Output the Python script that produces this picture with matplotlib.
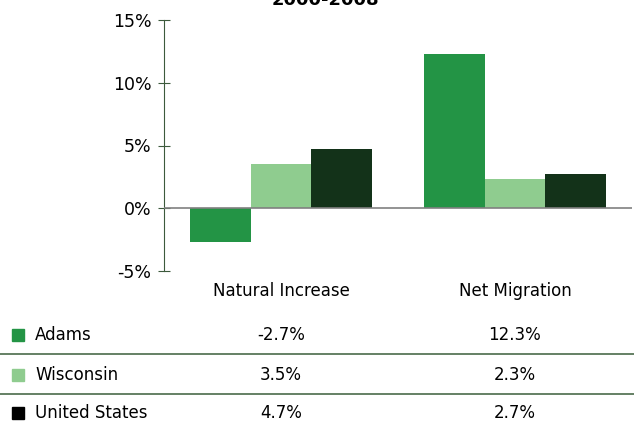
import numpy as np
from matplotlib import pyplot as plt

categories = ["Natural Increase", "Net Migration"]
series = ["Adams", "Wisconsin", "United States"]
adams = [-2.7, 12.3]
wisconsin = [3.5, 2.3]
united_states = [4.7, 2.7]
bar_colors = ["#239445", "#8fcc8f", "#133219"]
legend_colors = ["#239445", "#8fcc8f", "#000000"]
yticks = [-5, 0, 5, 10, 15]

plt.rcParams['font.family'] = ['DejaVu Sans']

fig = plt.figure(figsize=(6.34, 4.26), dpi=100)
ax = fig.add_axes([164/634, 1 - 271/426, 468/634, 251/426])

x = np.arange(len(categories))
w = 0.26
values = [adams, wisconsin, united_states]
for i, (vals, c) in enumerate(zip(values, bar_colors)):
    ax.bar(x + (i - 1) * w, vals, width=w, color=c, zorder=2)

ax.set_xlim(-0.5, 1.5)
ax.set_ylim(-5, 15)
ax.set_yticks(yticks)
ax.set_yticklabels([f"{t}%" for t in yticks], fontsize=12.5)
ax.axhline(0, color="#808080", lw=1.2, zorder=3)
for s in ["top", "right", "bottom"]:
    ax.spines[s].set_visible(False)
ax.spines["left"].set_color("#3c5a3c")
ax.tick_params(axis="y", direction="inout", length=8, color="#3c5a3c", pad=5)
ax.set_xticks(x)
ax.set_xticklabels(categories, fontsize=12)
ax.tick_params(axis="x", length=0, pad=8)

fig.text(325/634, 1.0, "2000-2008", ha="center", va="center", fontsize=13, fontweight="bold")

# data table under the chart
row_y = [335, 375, 413]
for name, vals, c, ry in zip(series, values, legend_colors, row_y):
    yf = 1 - ry / 426
    fig.patches.append(plt.Rectangle((12/634, yf - 6/426), 12/634, 12/426,
                                     color=c, transform=fig.transFigure))
    fig.text(35/634, yf, name, va="center", fontsize=12)
    for xi, v in zip(x, vals):
        xf = ax.transData.transform((xi, 0))[0] / fig.bbox.width
        fig.text(xf, yf, f"{v}%", ha="center", va="center", fontsize=12)

for ly in [354, 394]:
    fig.add_artist(plt.Line2D([0, 1], [1 - ly/426] * 2, color="#4a6b4a", lw=1.2,
                              transform=fig.transFigure))

fig.savefig("out.png", dpi=100)
